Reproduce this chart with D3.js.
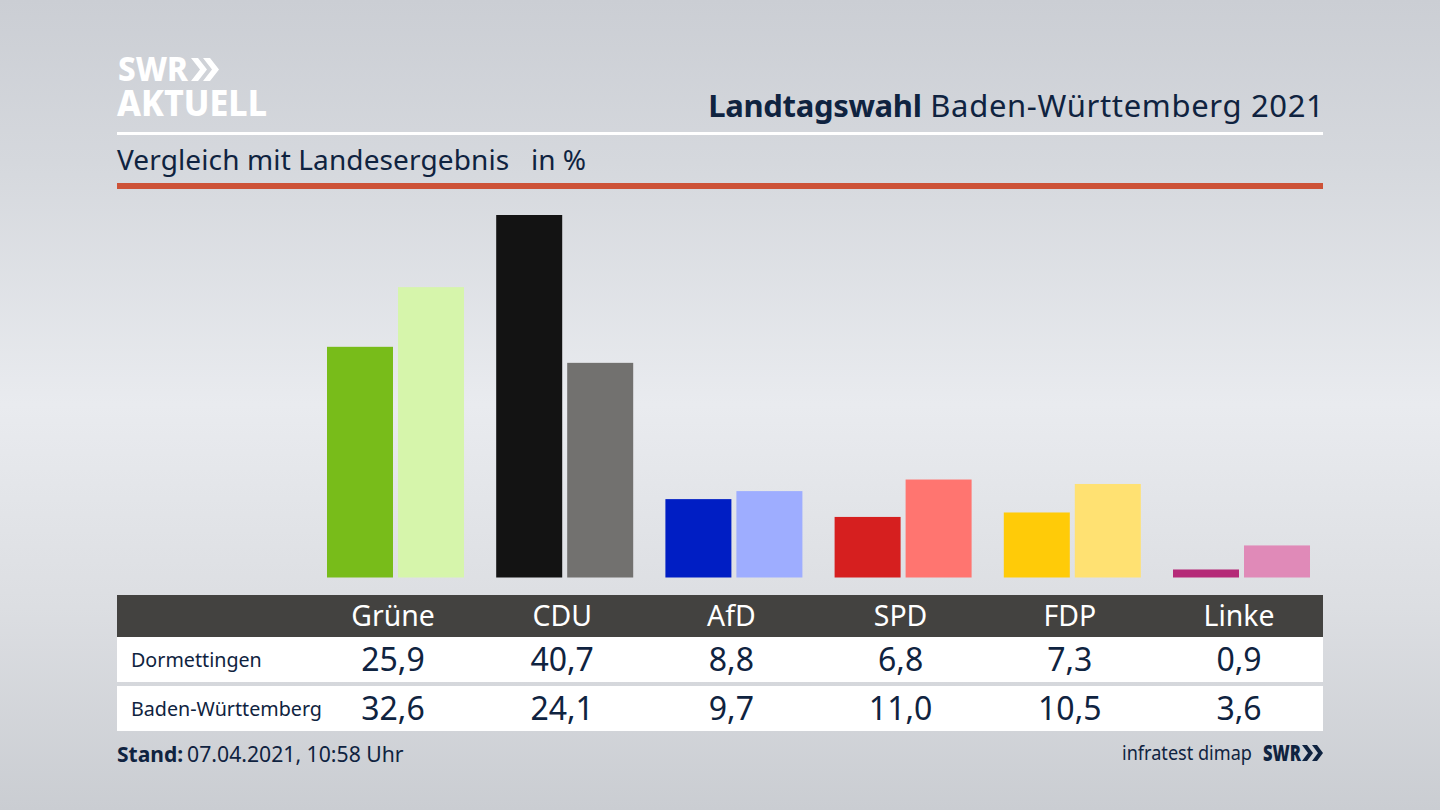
<!DOCTYPE html>
<html><head><meta charset="utf-8">
<script src="https://cdn.jsdelivr.net/npm/d3@7"></script>
<style>html,body{margin:0;padding:0;overflow:hidden;background:#d0d3d9}svg{display:block}text{font-family:"Noto Sans",sans-serif}</style>
</head><body><svg id="c" width="1440" height="810"></svg>
<script>
const parties=["Grüne","CDU","AfD","SPD","FDP","Linke"];
const rowLabels=["Dormettingen","Baden-Württemberg"];
const local=[25.9,40.7,8.8,6.8,7.3,0.9];
const state=[32.6,24.1,9.7,11.0,10.5,3.6];
const colorsLocal=["#78bc1a","#131313","#001ec4","#d61f1f","#ffcb08","#b52a78"];
const colorsState=["#d6f5ab","#72716f","#9eadff","#ff7570","#ffe172","#e08ab8"];
const fmt=v=>v.toFixed(1).replace(".",",");
const ink="#0f2340";
const svg=d3.select("#c");
const defs=svg.append("defs");
const g=defs.append("linearGradient").attr("id","bg").attr("x1",0).attr("x2",0).attr("y1",0).attr("y2",1);
[[0,"#cbced4"],[0.2,"#d5d8dd"],[0.5,"#e9ebef"],[0.75,"#dcdee2"],[1,"#cacdd2"]].forEach(d=>g.append("stop").attr("offset",d[0]).attr("stop-color",d[1]));
svg.append("rect").attr("width",1440).attr("height",810).attr("fill","url(#bg)");

const L=117,R=1323;
// header
const logo=svg.append("g").attr("fill","#fff");
logo.append("text").attr("x",118).attr("y",81).attr("font-size",34).attr("font-weight",800).attr("textLength",70).attr("lengthAdjust","spacingAndGlyphs").text("SWR");
logo.append("text").attr("x",117).attr("y",116).attr("font-size",36).attr("font-weight",800).attr("textLength",150).attr("lengthAdjust","spacingAndGlyphs").text("AKTUELL");
const chev=(s,x,y,h,w,t)=>s.append("path").attr("d",`M${x} ${y}h${t}l${w} ${h/2}l${-w} ${h/2}h${-t}l${w} ${-h/2}z`);
chev(logo,191,58,23,9,7);chev(logo,203,58,23,9,7);
svg.append("text").attr("x",R+1.5).attr("y",117).attr("text-anchor","end").attr("font-size",31).attr("fill",ink)
 .call(t=>{t.append("tspan").attr("font-weight",700).attr("letter-spacing",-0.33).text("Landtagswahl");t.append("tspan").attr("letter-spacing",0.66).text(" Baden-Württemberg 2021");});
svg.append("rect").attr("x",L).attr("y",132).attr("width",R-L).attr("height",3).attr("fill","#fff");
svg.append("text").attr("x",L).attr("y",170).attr("font-size",28).attr("letter-spacing",0.12).attr("fill",ink).text("Vergleich mit Landesergebnis");
svg.append("text").attr("x",531).attr("y",170).attr("font-size",28).attr("fill",ink).text("in %");
svg.append("rect").attr("x",L).attr("y",183).attr("width",R-L).attr("height",6).attr("fill","#cd5237");

// scales
const x=d3.scaleBand().domain(parties).range([308.4,1323.6]);
const inner=d3.scaleBand().domain([0,1]).range([0,137]).paddingInner(5/71);
const y=d3.scaleLinear().domain([0,40.7]).range([577.5,215]);
const cx=p=>x(p)+x.bandwidth()/2;
const bars=svg.append("g");
[local,state].forEach((vals,s)=>{
 bars.selectAll(null).data(parties).enter().append("rect")
  .attr("x",p=>cx(p)-66+inner(s)).attr("width",inner.bandwidth())
  .attr("y",(p,i)=>y(vals[i])).attr("height",(p,i)=>y(0)-y(vals[i]))
  .attr("fill",(p,i)=>(s?colorsState:colorsLocal)[i]);
});

// table
svg.append("rect").attr("x",L).attr("y",595).attr("width",R-L).attr("height",42).attr("fill","#434240");
svg.append("rect").attr("x",L).attr("y",637).attr("width",R-L).attr("height",45).attr("fill","#fff");
svg.append("rect").attr("x",L).attr("y",686).attr("width",R-L).attr("height",45).attr("fill","#fff");
svg.append("g").selectAll("text").data(parties).enter().append("text").attr("x",cx).attr("y",626).attr("text-anchor","middle").attr("font-size",28.4).attr("fill","#fff").text(d=>d);
[[local,671,667],[state,720,716]].forEach(([vals,vy,ly],s)=>{
 svg.append("text").attr("x",131).attr("y",ly).attr("font-size",19.7).attr("fill",ink).text(rowLabels[s]);
 svg.append("g").selectAll("text").data(parties).enter().append("text").attr("x",cx).attr("y",vy).attr("text-anchor","middle").attr("font-size",32).attr("fill",ink).text((p,i)=>fmt(vals[i]));
});

// footer
svg.append("text").attr("x",L).attr("y",762).attr("fill",ink)
 .call(t=>{t.append("tspan").attr("font-weight",700).attr("font-size",21).text("Stand:");t.append("tspan").attr("dx",4).attr("font-size",21.2).text("07.04.2021, 10:58 Uhr");});
svg.append("text").attr("x",1122).attr("y",760).attr("font-size",19.5).attr("textLength",130).attr("lengthAdjust","spacingAndGlyphs").attr("fill",ink).text("infratest dimap");
const sw=svg.append("g").attr("fill",ink);
sw.append("text").attr("x",1263).attr("y",761).attr("font-size",22).attr("font-weight",900).attr("textLength",38).attr("lengthAdjust","spacingAndGlyphs").text("SWR");
chev(sw,1302,745,16,6,5);chev(sw,1312,745,16,6,5);
</script></body></html>
